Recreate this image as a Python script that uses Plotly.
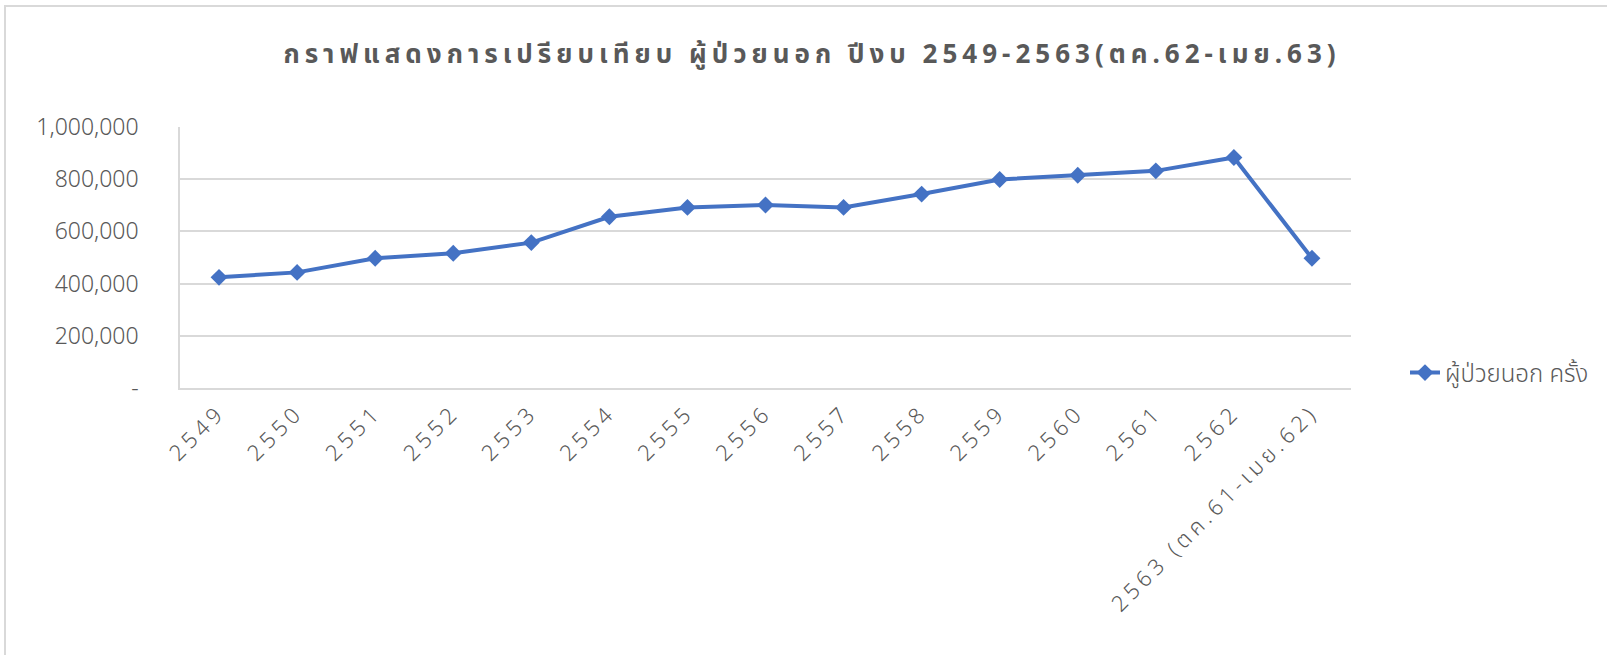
import plotly.graph_objects as go

categories = ["2549", "2550", "2551", "2552", "2553", "2554", "2555", "2556",
              "2557", "2558", "2559", "2560", "2561", "2562",
              "2563 (ตค.61-เมย.62)"]
opd_visits = [424000, 443000, 497000, 516000, 557000, 656000, 692000, 701000,
              692000, 743000, 799000, 815000, 832000, 883000, 497000]
series_name = "ผู้ป่วยนอก ครั้ง"
title_text = "กราฟแสดงการเปรียบเทียบ ผู้ป่วยนอก ปีงบ 2549-2563(ตค.62-เมย.63)"
y_tickvals = [0, 200000, 400000, 600000, 800000, 1000000]
y_ticktext = ["-", "200,000", "400,000", "600,000", "800,000", "1,000,000"]

FONT = "Noto Sans, Noto Sans Thai, Loma, sans-serif"
GRAY = "#595959"
GRID = "#d9d9d9"
BLUE = "#4472C4"

W, H = 1607, 655
L, R, T, B = 180, 1351, 127, 388   # plot area in page pixels
PW, PH = R - L, B - T

fig = go.Figure()
fig.add_trace(go.Scatter(
    x=categories, y=opd_visits, name=series_name,
    mode="lines+markers",
    line=dict(color=BLUE, width=4),
    marker=dict(symbol="diamond", size=13, color=BLUE),
))

fig.update_layout(
    width=W, height=H,
    margin=dict(l=L, r=W - R, t=T, b=H - B, autoexpand=False),
    paper_bgcolor="white", plot_bgcolor="white",
    font=dict(family=FONT, color=GRAY, size=22),
    title=dict(text="<b>" + title_text + "</b>", x=812 / W, xanchor="center",
               y=1 - 54 / H, yanchor="middle",
               font=dict(family=FONT, size=26, color=GRAY)),
    showlegend=True,
    legend=dict(x=(1405 - L) / PW, xanchor="left", y=(B - 373) / PH, yanchor="middle",
                font=dict(family=FONT, size=24, color=GRAY, weight=300),
                bgcolor="rgba(0,0,0,0)"),
    shapes=[dict(type="rect", xref="paper", yref="paper",
                 x0=(5 - L) / PW, x1=(1620 - L) / PW,
                 y0=(B - 670) / PH, y1=(B - 6) / PH,
                 line=dict(color=GRID, width=2), layer="below")],
)
fig.update_xaxes(
    type="category", tickangle=-45, showgrid=False,
    showline=True, linecolor=GRID, linewidth=1.5, mirror=False,
    ticks="", ticklabelstandoff=1,
    tickfont=dict(family=FONT, size=22, color=GRAY, weight=300),
    range=[-0.5, len(categories) - 0.5],
)
fig.update_yaxes(
    range=[0, 1000000], tickvals=y_tickvals, ticktext=y_ticktext,
    showgrid=True, gridcolor=GRID, gridwidth=1.5,
    showline=True, linecolor=GRID, linewidth=1.5,
    zeroline=False, ticks="", ticklabelstandoff=35,
    tickfont=dict(family=FONT, size=23, color=GRAY, weight=300),
)

post = """
document.body.style.margin = '0';
document.querySelectorAll('.gtitle').forEach(function(e){ e.style.letterSpacing = '5px'; });
document.querySelectorAll('.xtick text').forEach(function(e){ e.style.letterSpacing = '4.5px'; });
"""
fig.write_html("out.html", post_script=post, config={"displayModeBar": False})
